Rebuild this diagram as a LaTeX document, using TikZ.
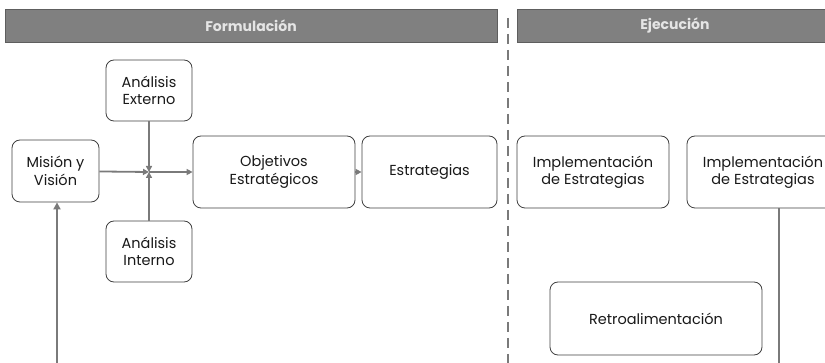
\documentclass[tikz,border=0pt]{standalone}
\usepackage{fontspec}
\setmainfont{Poppins}
\usetikzlibrary{arrows.meta}
\definecolor{hdr}{HTML}{808080}
\definecolor{hdrborder}{HTML}{5E5E5E}
\definecolor{boxline}{HTML}{404040}
\definecolor{arr}{HTML}{7A7A7A}
\begin{document}
\begin{tikzpicture}[x=1pt,y=-1pt,
  box/.style={draw=boxline,line width=0.8pt,rounded corners=8pt,fill=white,align=center,
    font=\fontsize{14.5}{17.5}\selectfont,text=black!90,inner sep=0pt},
  hdrbar/.style={draw=hdrborder,line width=0.8pt,fill=hdr,text=white!90!black,
    font=\bfseries\fontsize{14}{16}\selectfont,inner sep=0pt},
  flow/.style={draw=arr,line width=1.8pt,-{Triangle[length=6pt,width=6pt]}},
  plain/.style={draw=arr,line width=1.6pt}]
\useasboundingbox (0,0) rectangle (825,363);
\clip (0,0) rectangle (825,363);
% headers
\node[hdrbar,minimum width=492pt,minimum height=33pt] (hf) at (251,25.5) {Formulación};
\node[hdrbar,minimum width=316pt,minimum height=33pt] (he) at (675,25.5) {Ejecución};
% dashed separator
\coordinate (st) at (508,18);
\coordinate (sb) at (508,363);
\draw[draw=arr,line width=2pt,dash pattern=on 10pt off 6pt] (st) -- (sb);
% boxes
\node[box,minimum width=86pt,minimum height=61pt] (ae) at (149,90.5) {Análisis\\Externo};
\node[box,minimum width=87pt,minimum height=62pt] (mv) at (55.5,171) {Misión y\\Visión};
\node[box,minimum width=86pt,minimum height=61pt] (ai) at (149,251.5) {Análisis\\Interno};
\node[box,minimum width=162pt,minimum height=72pt] (oe) at (274,172) {Objetivos\\Estratégicos};
\node[box,minimum width=135pt,minimum height=72pt] (es) at (429.5,172) {Estrategias};
\node[box,minimum width=152pt,minimum height=72pt] (i1) at (593,172) {Implementación\\de Estrategias};
\node[box,minimum width=152pt,minimum height=72pt] (i2) at (763,172) {Implementación\\de Estrategias};
\node[box,minimum width=212pt,minimum height=73pt] (rt) at (656,318.5) {Retroalimentación};
% junction
\coordinate (j) at (149,172);
\draw[flow] (mv) -- (j);
\draw[flow] (ae) -- (j);
\draw[flow] (ai) -- (j);
\draw[flow] (j) -- (oe);
\draw[flow] (oe) -- (es);
% feedback lines
\coordinate (bl) at (57,363);
\draw[draw=arr,line width=2.8pt,-{Triangle[length=7pt,width=7pt]}] (bl) -- (mv.south -| bl);
\coordinate (br) at (779,363);
\draw[draw=arr,line width=1.3pt] (i2.south -| br) -- (br);
\end{tikzpicture}
\end{document}
